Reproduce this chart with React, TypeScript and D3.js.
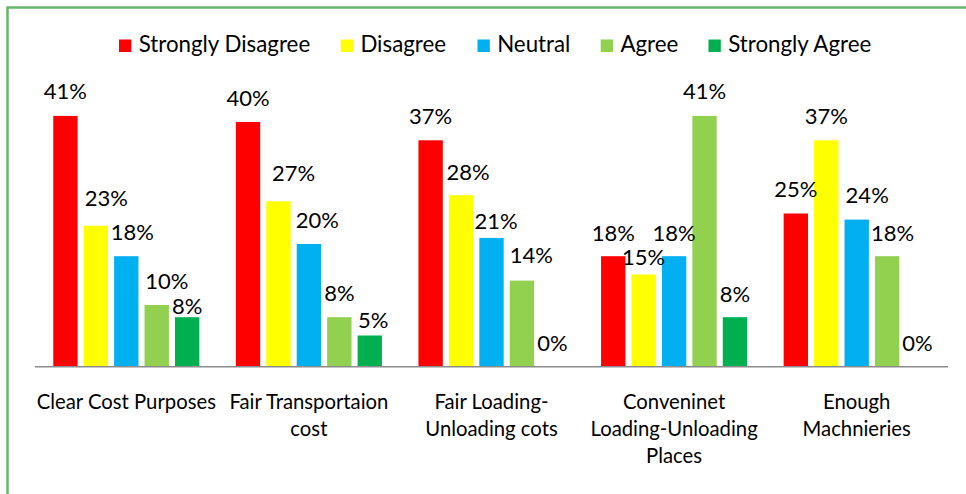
import React from "react";
import * as d3 from "d3";

// ---- data ----
const categories = [
  "Clear Cost Purposes",
  "Fair Transportaion cost",
  "Fair Loading-Unloading cots",
  "Conveninet Loading-Unloading Places",
  "Enough Machnieries",
];
const categoryLines = [
  ["Clear Cost Purposes"],
  ["Fair Transportaion", "cost"],
  ["Fair Loading-", "Unloading cots"],
  ["Conveninet", "Loading-Unloading", "Places"],
  ["Enough", "Machnieries"],
];
const seriesNames = ["Strongly Disagree", "Disagree", "Neutral", "Agree", "Strongly Agree"];
const stronglyDisagree = [0.41, 0.4, 0.37, 0.18, 0.25];
const disagree = [0.23, 0.27, 0.28, 0.15, 0.37];
const neutral = [0.18, 0.2, 0.21, 0.18, 0.24];
const agree = [0.1, 0.08, 0.14, 0.41, 0.18];
const stronglyAgree = [0.08, 0.05, 0.0, 0.08, 0.0];
const seriesValues = [stronglyDisagree, disagree, neutral, agree, stronglyAgree];

// ---- styling / layout ----
const colors = ["#FF0000", "#FFFF00", "#00B0F0", "#92D050", "#00B050"];
// manual data-label nudges [dx, dy] per series, per category (as in the source)
const labelNudge = [
  [[0, 0], [0, 0], [0, 0], [0, 1], [0, 0]],
  [[10.5, -3], [15, -4], [7, 1], [0, 7], [0, 0]],
  [[6, 0], [8.5, 0], [4.5, 8], [0, 1], [10.5, 0]],
  [[10, 0], [0, 0], [9.5, -1], [0, 0], [5.5, 1]],
  [[0, 13], [3.5, 9], [0, 1], [0, 1], [0, 1]],
];
const legendX = [119, 340.7, 477.5, 600.7, 708.5];

const W = 966;
const H = 494;
const FONT = "Lato, 'Open Sans', sans-serif";

export default function App() {
  const x0 = d3
    .scaleBand<string>()
    .domain(categories)
    .range([35, 948])
    .paddingInner(0.2)
    .paddingOuter(0.1);
  const x1 = d3
    .scaleBand<string>()
    .domain(seriesNames)
    .range([0, x0.bandwidth()])
    .paddingInner(0.2)
    .paddingOuter(0);
  const y = d3.scaleLinear().domain([0, 0.45]).range([366, 366 - 0.45 * 610]);
  const fmt = d3.format(".0%");

  return (
    <div style={{ position: "absolute", left: 0, top: 0 }}>
      <svg width={W} height={H} style={{ display: "block", background: "#fff" }}>
        <rect x={7.5} y={7.5} width={W + 20} height={H + 20} fill="#fff" stroke="#6AB46C" strokeWidth={2.5} />
        {/* legend */}
        <g fontFamily={FONT} fontSize={22.3} fill="#000">
          {seriesNames.map((s, i) => (
            <g key={s} transform={`translate(${legendX[i]},0)`}>
              <rect x={0} y={39.5} width={12.3} height={12.5} fill={colors[i]} />
              <text x={19.7} y={52}>
                {s}
              </text>
            </g>
          ))}
        </g>
        {/* bars */}
        {seriesValues.map((vals, si) => (
          <g key={seriesNames[si]} fill={colors[si]}>
            {categories.map((c, ci) => {
              const bx = x0(c)! + x1(seriesNames[si])!;
              return (
                <rect key={c} x={bx} y={y(vals[ci])} width={x1.bandwidth()} height={y(0) - y(vals[ci])} />
              );
            })}
          </g>
        ))}
        {/* axis */}
        <line x1={35} x2={948} y1={366.75} y2={366.75} stroke="#8C8C8C" strokeWidth={1.5} />
        {/* data labels */}
        <g fontFamily={FONT} fontSize={22} fill="#000" textAnchor="middle">
          {seriesValues.map((vals, si) =>
            categories.map((c, ci) => {
              const cx = x0(c)! + x1(seriesNames[si])! + x1.bandwidth() / 2;
              const [dx, dy] = labelNudge[si][ci];
              return (
                <text key={`${si}-${ci}`} x={cx + dx} y={y(vals[ci]) - 16.5 + dy}>
                  {fmt(vals[ci])}
                </text>
              );
            })
          )}
        </g>
        {/* category labels */}
        <g fontFamily={FONT} fontSize={20.3} fill="#000" textAnchor="middle">
          {categories.map((c, ci) => (
            <text key={c} x={x0(c)! + x0.bandwidth() / 2} y={409}>
              {categoryLines[ci].map((ln, li) => (
                <tspan key={li} x={x0(c)! + x0.bandwidth() / 2} y={409 + li * 27}>
                  {ln}
                </tspan>
              ))}
            </text>
          ))}
        </g>
      </svg>
    </div>
  );
}
